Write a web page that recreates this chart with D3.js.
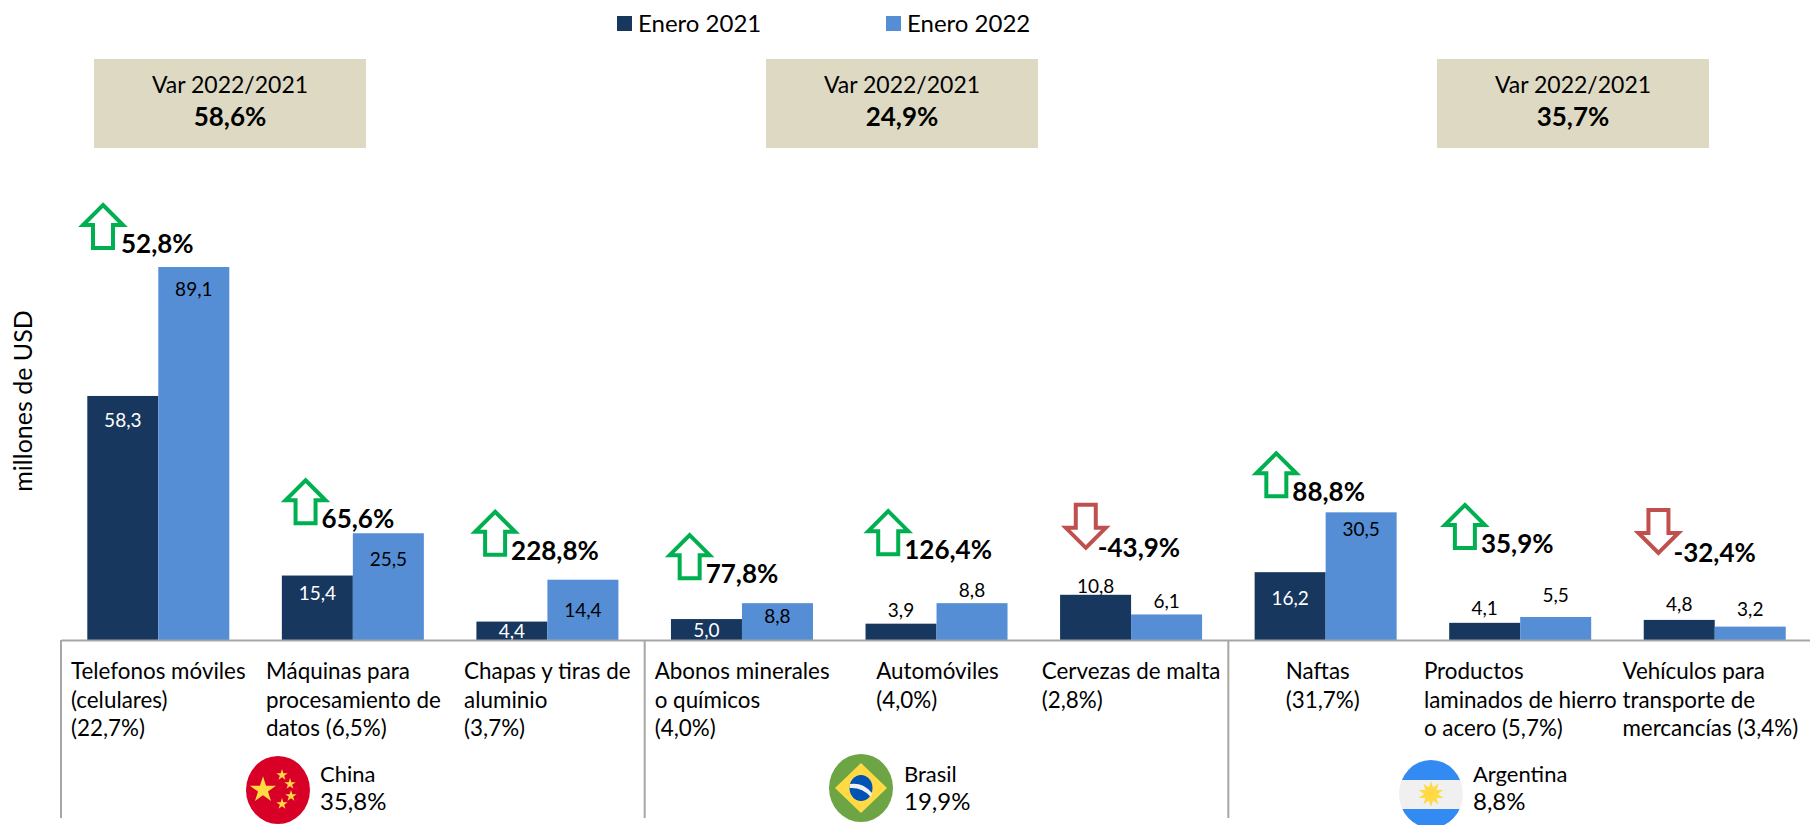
<!DOCTYPE html>
<html>
<head>
<meta charset="utf-8">
<script src="https://cdn.jsdelivr.net/npm/d3@7"></script>
<style>
  html, body { margin: 0; padding: 0; background: #fff; overflow: hidden; }
  text { font-family: Lato, "Open Sans", sans-serif; fill: #000; }
</style>
</head>
<body>
<script>
const width = 1810, height = 825;

// values
const categories = ["tel", "maq", "cha", "abo", "aut", "cer", "naf", "pro", "veh"];
const series = ["Enero 2021", "Enero 2022"];
const enero2021 = [58.3, 15.4, 4.4, 5.0, 3.9, 10.8, 16.2, 4.1, 4.8];
const enero2022 = [89.1, 25.5, 14.4, 8.8, 8.8, 6.1, 30.5, 5.5, 3.2];
const variation = ["52,8%", "65,6%", "228,8%", "77,8%", "126,4%", "-43,9%", "88,8%", "35,9%", "-32,4%"];
const catLabels = [
  ["Telefonos móviles", "(celulares)", "(22,7%)"],
  ["Máquinas para", "procesamiento de", "datos (6,5%)"],
  ["Chapas y tiras de", "aluminio", "(3,7%)"],
  ["Abonos minerales", "o químicos", "(4,0%)"],
  ["Automóviles", "(4,0%)"],
  ["Cervezas de malta", "(2,8%)"],
  ["Naftas", "(31,7%)"],
  ["Productos", "laminados de hierro", "o acero (5,7%)"],
  ["Vehículos para", "transporte de", "mercancías (3,4%)"]
];
const countries = ["China", "Brasil", "Argentina"];
const countryShare = ["35,8%", "19,9%", "8,8%"];
const countryVar = ["58,6%", "24,9%", "35,7%"];

// hand placement of the labels, same order as categories
const labelShift = [10, 10.5, 14, 10, 37, 8, 57.5, 1, 5];
const arrowShift = [42, 50, 45, 45, 49, 52, 48, 42, 41];
const arrowLift = [65, 56, 71, 71, 95, 91, 62, 115, 111];
const textGap = [18, 16, 16, 16, 16, 12, 16, 16, 15];
const dy2021 = [31, 24, 16, 18, -7, -2, 33, -8, -9];
const dy2022 = [29, 33, 37, 20, -6, -6, 24, -15, -11];
const inside2021 = [1, 1, 1, 1, 0, 0, 1, 0, 0];

const svg = d3.select("body").append("svg")
    .attr("width", width)
    .attr("height", height);

const x = d3.scaleBand().domain(categories).range([61, 1812]);
const x1 = d3.scaleBand().domain(series).range([26.3, 168.3]);
const y = d3.scaleLinear().domain([0, 100]).range([640, 221.4]);
const colors = d3.scaleOrdinal().domain(series).range(["#17375E", "#558ED5"]);

// bars
const rows = categories.map((c, i) => ({ c, i, a: enero2021[i], b: enero2022[i] }));
const groups = svg.selectAll("g.group").data(rows).join("g")
    .attr("class", "group")
    .attr("transform", d => `translate(${x(d.c)},0)`);

groups.append("rect")
    .attr("x", x1(series[0]))
    .attr("y", d => y(d.a))
    .attr("width", x1.bandwidth())
    .attr("height", d => y(0) - y(d.a))
    .attr("fill", colors(series[0]));

groups.append("rect")
    .attr("x", x1(series[1]))
    .attr("y", d => y(d.b))
    .attr("width", x1.bandwidth())
    .attr("height", d => y(0) - y(d.b))
    .attr("fill", colors(series[1]));

const fmt = v => v.toFixed(1).replace(".", ",");

groups.append("text")
    .attr("x", x1(series[0]) + x1.bandwidth() / 2)
    .attr("y", d => y(d.a) + dy2021[d.i])
    .attr("text-anchor", "middle")
    .attr("font-size", 19)
    .style("fill", d => inside2021[d.i] ? "#fff" : "#000")
    .text(d => fmt(d.a));

groups.append("text")
    .attr("x", x1(series[1]) + x1.bandwidth() / 2)
    .attr("y", d => y(d.b) + dy2022[d.i])
    .attr("text-anchor", "middle")
    .attr("font-size", 19)
    .text(d => fmt(d.b));

// axis and separators
const axis = svg.append("g")
    .attr("transform", `translate(0,${y(0)})`)
    .call(d3.axisBottom(x).tickSize(0).tickFormat(""));
axis.select(".domain").attr("stroke", "#A6A6A6").attr("stroke-width", 2);

svg.selectAll("line.sep").data([0, 3, 6]).join("line")
    .attr("class", "sep")
    .attr("x1", i => x(categories[i]))
    .attr("x2", i => x(categories[i]))
    .attr("y1", y(0))
    .attr("y2", 818)
    .attr("stroke", "#A6A6A6")
    .attr("stroke-width", 2);

// category labels
groups.append("text")
    .attr("font-size", 22.4)
    .selectAll("tspan")
    .data(d => catLabels[d.i].map(t => ({ t, i: d.i })))
    .join("tspan")
    .attr("x", d => labelShift[d.i])
    .attr("y", (d, j) => 679 + j * 28.5)
    .text(d => d.t);

// arrows
const upArrow = "M0,3 L20,23 L10,23 L10,46 L-10,46 L-10,23 L-20,23 Z";
const downArrow = "M0,-3 L20,-23 L10,-23 L10,-46 L-10,-46 L-10,-23 L-20,-23 Z";

groups.each(function(d) {
  const g = d3.select(this);
  const up = d.b >= d.a;
  const top = Math.min(y(d.a), y(d.b));
  const tip = top - arrowLift[d.i];
  g.append("path")
    .attr("d", up ? upArrow : downArrow)
    .attr("transform", `translate(${arrowShift[d.i]},${up ? tip : tip + 47})`)
    .attr("fill", "#fff")
    .attr("stroke", up ? "#00B050" : "#C0504D")
    .attr("stroke-width", 4);
  g.append("text")
    .attr("x", arrowShift[d.i] + textGap[d.i])
    .attr("y", up ? tip + 51 : tip + 53)
    .attr("font-size", 26)
    .attr("font-weight", 700)
    .text(variation[d.i]);
});

// y title
svg.append("text")
    .attr("transform", "translate(32,401) rotate(-90)")
    .attr("text-anchor", "middle")
    .attr("font-size", 25)
    .text("millones de USD");

// legend
const legendX = d3.scaleOrdinal().domain(series).range([617, 886]);
const legend = svg.selectAll("g.legend").data(series).join("g")
    .attr("class", "legend")
    .attr("transform", d => `translate(${legendX(d)},0)`);
legend.append("rect")
    .attr("y", 16).attr("width", 15).attr("height", 15)
    .attr("fill", d => colors(d));
legend.append("text")
    .attr("x", 21).attr("y", 32)
    .attr("font-size", 24)
    .text(d => d);

// variation boxes
const boxX = d3.scaleOrdinal().domain(countries).range([94, 766, 1437]);
const box = svg.selectAll("g.box").data(countries).join("g")
    .attr("class", "box")
    .attr("transform", d => `translate(${boxX(d)},59)`);
box.append("rect")
    .attr("width", 272).attr("height", 89)
    .attr("fill", "#DDD9C3");
box.append("text")
    .attr("x", 136).attr("y", 34)
    .attr("text-anchor", "middle")
    .attr("font-size", 23)
    .text("Var 2022/2021");
box.append("text")
    .attr("x", 136).attr("y", 67)
    .attr("text-anchor", "middle")
    .attr("font-size", 26)
    .attr("font-weight", 700)
    .text((d, i) => countryVar[i]);

// countries and flags
const flagX = d3.scaleOrdinal().domain(countries).range([278, 861, 1431]);
const flagY = d3.scaleOrdinal().domain(countries).range([790, 788, 794]);
const nameX = d3.scaleOrdinal().domain(countries).range([320, 904, 1473]);

svg.selectAll("text.country").data(countries).join("text")
    .attr("class", "country")
    .attr("x", d => nameX(d)).attr("y", 782)
    .attr("font-size", 22)
    .text(d => d);
svg.selectAll("text.share").data(countries).join("text")
    .attr("class", "share")
    .attr("x", d => nameX(d)).attr("y", 810)
    .attr("font-size", 24)
    .text((d, i) => countryShare[i]);

const defs = svg.append("defs");
countries.forEach((c, i) => {
  defs.append("clipPath").attr("id", "flag" + i)
    .append("ellipse").attr("rx", 32).attr("ry", 34);
});
const flag = svg.selectAll("g.flag").data(countries).join("g")
    .attr("class", "flag")
    .attr("transform", d => `translate(${flagX(d)},${flagY(d)})`)
    .append("g")
    .attr("clip-path", (d, i) => `url(#flag${i})`);

// China
const cn = flag.filter(d => d === "China");
cn.append("rect").attr("x", -32).attr("y", -34).attr("width", 64).attr("height", 68).attr("fill", "#D80027");
const star = s => d3.symbol().type(d3.symbolStar).size(s)();
cn.selectAll("path").data([[-15, 0, 210], [4, -15, 40], [12, -6, 40], [13, 6, 40], [4, 14, 40]]).join("path")
    .attr("d", d => star(d[2]))
    .attr("transform", d => `translate(${d[0]},${d[1]})`)
    .attr("fill", "#FFDA44");

// Brasil
const br = flag.filter(d => d === "Brasil");
br.append("rect").attr("x", -32).attr("y", -34).attr("width", 64).attr("height", 68).attr("fill", "#6DA544");
br.append("path").attr("d", "M0,-25 L26,0 L0,25 L-26,0 Z").attr("fill", "#FFDA44");
br.append("ellipse").attr("rx", 11.5).attr("ry", 13).attr("fill", "#0052B4");
br.append("path").attr("d", "M-11,-4 Q2,-6 11,5 L10,9 Q1,-1 -11.5,0 Z").attr("fill", "#F0F0F0");

// Argentina
const ar = flag.filter(d => d === "Argentina");
ar.append("rect").attr("x", -32).attr("y", -34).attr("width", 64).attr("height", 68).attr("fill", "#F0F0F0");
ar.append("rect").attr("x", -32).attr("y", -34).attr("width", 64).attr("height", 20).attr("fill", "#338AF3");
ar.append("rect").attr("x", -32).attr("y", 15).attr("width", 64).attr("height", 20).attr("fill", "#338AF3");
ar.append("path").attr("d", d3.symbol().type(d3.symbolStar).size(190)()).attr("fill", "#FFDA44");
ar.append("path").attr("d", d3.symbol().type(d3.symbolStar).size(190)()).attr("transform", "rotate(36)").attr("fill", "#FFDA44");
</script>
</body>
</html>
